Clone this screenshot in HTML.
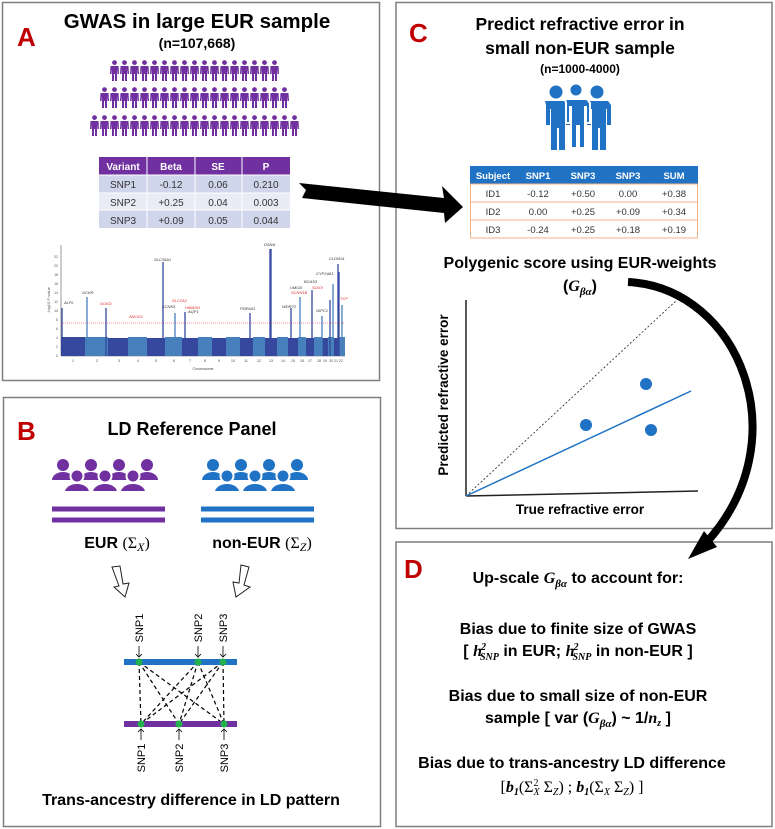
<!DOCTYPE html>
<html><head><meta charset="utf-8"><style>
body{margin:0;background:#fff;}
svg{display:block;font-family:"Liberation Sans",sans-serif;}
.b{font-weight:bold;}
.m{font-family:"Liberation Serif",serif;font-style:italic;font-weight:bold;}
</style></head><body>
<svg width="775" height="829" viewBox="0 0 775 829" xmlns="http://www.w3.org/2000/svg">
<defs>
<g id="pp"><circle cx="4.5" cy="2.6" r="2.4"/><path d="M0.5 6 h8 l0.5 8 h-1.5 l-0.5 -5 v12 h-2 v-7 h-1 v7 h-2 v-12 l-0.5 5 h-1.5z"/></g>
<g id="r1"><use href="#pp" x="110"/><use href="#pp" x="120"/><use href="#pp" x="130"/><use href="#pp" x="140"/><use href="#pp" x="150"/><use href="#pp" x="160"/><use href="#pp" x="170"/><use href="#pp" x="180"/><use href="#pp" x="190"/><use href="#pp" x="200"/><use href="#pp" x="210"/><use href="#pp" x="220"/><use href="#pp" x="230"/><use href="#pp" x="240"/><use href="#pp" x="250"/><use href="#pp" x="260"/><use href="#pp" x="270"/></g>
<g id="grp"><circle cx="11" cy="7" r="6"/><circle cx="39" cy="7" r="6"/><circle cx="67" cy="7" r="6"/><circle cx="95" cy="7" r="6"/>
<path d="M0 22 a11 8 0 0 1 22 0z M28 22 a11 8 0 0 1 22 0z M56 22 a11 8 0 0 1 22 0z M84 22 a11 8 0 0 1 22 0z"/>
<g stroke="#fff" stroke-width="2"><circle cx="25" cy="18" r="6.5"/><circle cx="53" cy="18" r="6.5"/><circle cx="81" cy="18" r="6.5"/>
<path d="M12 34 a13 9 0 0 1 26 0z M40 34 a13 9 0 0 1 26 0z M68 34 a13 9 0 0 1 26 0z"/></g></g>
<g id="big"><circle cx="0" cy="6" r="6.5"/><path d="M-11 15 h22 l3 4 v20 h-4 v-16 h-1 v41 h-6 v-22 h-2 v22 h-6 v-41 h-1 v16 h-4 v-20z"/></g>
</defs>

<g fill="none" stroke="#7f7f7f" stroke-width="1.5">
<rect x="2.5" y="2.5" width="377" height="378"/>
<rect x="3.5" y="397.5" width="377" height="429"/>
<rect x="396" y="2.5" width="376" height="526"/>
<rect x="396" y="542" width="376" height="284.5"/>
</g>

<!-- Panel A -->
<text x="17" y="46" class="b" font-size="26" fill="#c00000">A</text>
<text x="197" y="28" class="b" font-size="20.5" text-anchor="middle">GWAS in large EUR sample</text>
<text x="197" y="48" class="b" font-size="14" text-anchor="middle">(n=107,668)</text>
<g fill="#7030a0">
<use href="#r1" y="60"/>
<use href="#r1" x="-10" y="87"/><use href="#pp" x="270" y="87"/><use href="#pp" x="280" y="87"/>
<use href="#r1" x="-20" y="115"/><use href="#pp" x="260" y="115"/><use href="#pp" x="270" y="115"/><use href="#pp" x="280" y="115"/><use href="#pp" x="290" y="115"/>
</g>
<rect x="99" y="157" width="191" height="18" fill="#7030a0"/>
<rect x="99" y="175" width="191" height="18" fill="#cfd5ea"/>
<rect x="99" y="193" width="191" height="17" fill="#e9ebf5"/>
<rect x="99" y="210" width="191" height="18" fill="#cfd5ea"/>
<g stroke="#fff" stroke-width="1"><line x1="99" y1="175" x2="290" y2="175"/><line x1="99" y1="193" x2="290" y2="193"/><line x1="99" y1="210" x2="290" y2="210"/><line x1="147" y1="157" x2="147" y2="228"/><line x1="195" y1="157" x2="195" y2="228"/><line x1="242" y1="157" x2="242" y2="228"/></g>
<g font-size="10" text-anchor="middle"><g fill="#fff" class="b"><text x="123" y="170">Variant</text><text x="171" y="170">Beta</text><text x="218" y="170">SE</text><text x="266" y="170">P</text></g>
<g fill="#333"><text x="123" y="188">SNP1</text><text x="171" y="188">-0.12</text><text x="218" y="188">0.06</text><text x="266" y="188">0.210</text>
<text x="123" y="206">SNP2</text><text x="171" y="206">+0.25</text><text x="218" y="206">0.04</text><text x="266" y="206">0.003</text>
<text x="123" y="224">SNP3</text><text x="171" y="224">+0.09</text><text x="218" y="224">0.05</text><text x="266" y="224">0.044</text></g></g>
<g>
<line x1="61" y1="245" x2="61" y2="356" stroke="#555" stroke-width="0.6"/>
<line x1="61" y1="356" x2="345" y2="356" stroke="#555" stroke-width="0.6"/>
<g font-size="3.5" fill="#555" text-anchor="end"><text x="58" y="357">0</text><text x="58" y="348">2</text><text x="58" y="339">4</text><text x="58" y="330">6</text><text x="58" y="321">8</text><text x="58" y="312">10</text><text x="58" y="303">12</text><text x="58" y="294">14</text><text x="58" y="285">16</text><text x="58" y="276">18</text><text x="58" y="267">20</text><text x="58" y="258">22</text></g>
<text x="50" y="300" font-size="4" fill="#555" transform="rotate(-90 50 300)" text-anchor="middle">-log10 P-value</text>
<g>
<rect x="61" y="337" width="24" height="19" fill="#35489e"/>
<rect x="85" y="337" width="23" height="19" fill="#4780bd"/>
<rect x="108" y="338" width="20" height="18" fill="#35489e"/>
<rect x="128" y="337" width="19" height="19" fill="#4780bd"/>
<rect x="147" y="338" width="18" height="18" fill="#35489e"/>
<rect x="165" y="337" width="17" height="19" fill="#4780bd"/>
<rect x="182" y="338" width="16" height="18" fill="#35489e"/>
<rect x="198" y="337" width="14" height="19" fill="#4780bd"/>
<rect x="212" y="338" width="14" height="18" fill="#35489e"/>
<rect x="226" y="337" width="14" height="19" fill="#4780bd"/>
<rect x="240" y="338" width="13" height="18" fill="#35489e"/>
<rect x="253" y="337" width="12" height="19" fill="#4780bd"/>
<rect x="265" y="338" width="12" height="18" fill="#35489e"/>
<rect x="277" y="337" width="11" height="19" fill="#4780bd"/>
<rect x="288" y="338" width="10" height="18" fill="#35489e"/>
<rect x="298" y="337" width="8" height="19" fill="#4780bd"/>
<rect x="306" y="338" width="8" height="18" fill="#35489e"/>
<rect x="314" y="337" width="8" height="19" fill="#4780bd"/>
<rect x="322" y="338" width="6" height="18" fill="#35489e"/>
<rect x="328" y="337" width="6" height="19" fill="#4780bd"/>
<rect x="334" y="338" width="5" height="18" fill="#35489e"/>
<rect x="339" y="337" width="6" height="19" fill="#4780bd"/>
</g>
<g stroke-width="1.3" fill="none">
<path stroke="#35489e" d="M62 356V308 M106 356V308 M163 356V262 M185 356V312 M250 356V313 M270 356V249 M271 356V249 M291 356V308 M312 356V290 M338 356V264 M339 356V272 M330 356V300"/>
<path stroke="#4780bd" d="M87 356V297 M175 356V313 M300 356V297 M333 356V284 M342 356V305 M322 356V316"/>
</g>
<line x1="61" y1="323" x2="345" y2="323" stroke="#e03030" stroke-width="0.6" stroke-dasharray="1,1"/>
<g font-size="3.5" fill="#444" text-anchor="middle"><text x="73" y="362">1</text><text x="97" y="362">2</text><text x="119" y="362">3</text><text x="138" y="362">4</text><text x="156" y="362">5</text><text x="174" y="362">6</text><text x="190" y="362">7</text><text x="205" y="362">8</text><text x="219" y="362">9</text><text x="233" y="362">10</text><text x="246" y="362">11</text><text x="259" y="362">12</text><text x="271" y="362">13</text><text x="283" y="362">14</text><text x="293" y="362">15</text><text x="302" y="362">16</text><text x="310" y="362">17</text><text x="319" y="362">18</text><text x="325" y="362">19</text><text x="336" y="362">20 21 22</text><text x="203" y="370">Chromosome</text></g>
<g font-size="4" font-style="italic" fill="#333"><text x="64" y="304">ALPL</text><text x="82" y="294">GCKR</text><text x="154" y="261">SLC39A1</text><text x="162" y="308">KCNK5</text><text x="188" y="313">AQP1</text><text x="240" y="310">PDE6A1</text><text x="264" y="246">DSNA</text><text x="282" y="308">WDR72</text><text x="290" y="289">UMOD</text><text x="304" y="283">BCAS3</text><text x="316" y="275">CYP24A1</text><text x="329" y="260">CLDN14</text><text x="316" y="312">GIPC1</text></g>
<g font-size="4" font-style="italic" fill="#e03030"><text x="100" y="305">DGKD</text><text x="129" y="318">ANOG1</text><text x="172" y="302">SLC2A2</text><text x="185" y="309">HIBADH</text><text x="291" y="294">SCNN1B</text><text x="312" y="289">SOX9</text><text x="340" y="300">TCF</text></g>
</g>

<polygon points="299,183 444,198 442,186 463,207 445,223 444,213 302,198 306,190" fill="#000"/>

<!-- Panel C -->
<text x="409" y="42" class="b" font-size="26" fill="#c00000">C</text>
<text x="580" y="30" class="b" font-size="17.5" text-anchor="middle">Predict refractive error in</text>
<text x="580" y="54" class="b" font-size="17.5" text-anchor="middle">small non-EUR sample</text>
<text x="580" y="73" class="b" font-size="12" text-anchor="middle">(n=1000-4000)</text>
<g fill="#1f72c4">
<use href="#big" x="556" y="86"/><use href="#big" x="597" y="86"/>
<g stroke="#fff" stroke-width="2"><use href="#big" x="576" y="84"/></g>
</g>
<rect x="470" y="166" width="228" height="18" fill="#1f72c4"/>
<rect x="470.5" y="184" width="227" height="54" fill="#fff" stroke="#f4b183"/>
<line x1="470" y1="202" x2="698" y2="202" stroke="#f4b183"/><line x1="470" y1="220" x2="698" y2="220" stroke="#f4b183"/>
<g font-size="9.5" text-anchor="middle"><g fill="#fff" class="b"><text x="493" y="179">Subject</text><text x="538" y="179">SNP1</text><text x="583" y="179">SNP3</text><text x="628" y="179">SNP3</text><text x="674" y="179">SUM</text></g>
<g fill="#333"><text x="493" y="197">ID1</text><text x="538" y="197">-0.12</text><text x="583" y="197">+0.50</text><text x="628" y="197">0.00</text><text x="674" y="197">+0.38</text>
<text x="493" y="215">ID2</text><text x="538" y="215">0.00</text><text x="583" y="215">+0.25</text><text x="628" y="215">+0.09</text><text x="674" y="215">+0.34</text>
<text x="493" y="233">ID3</text><text x="538" y="233">-0.24</text><text x="583" y="233">+0.25</text><text x="628" y="233">+0.18</text><text x="674" y="233">+0.19</text></g></g>
<text x="580" y="268" class="b" font-size="16" text-anchor="middle">Polygenic score using EUR-weights</text>
<text x="580" y="291" font-size="16" text-anchor="middle" class="b">(<tspan class="m">G</tspan><tspan class="m" font-size="11" dy="4">βα</tspan><tspan dy="-4">)</tspan></text>
<line x1="466" y1="300" x2="466" y2="496" stroke="#222" stroke-width="1.5"/>
<line x1="466" y1="496" x2="698" y2="491" stroke="#222" stroke-width="1.5"/>
<line x1="466" y1="496" x2="678" y2="299" stroke="#222" stroke-width="0.8" stroke-dasharray="2,2"/>
<line x1="466" y1="496" x2="691" y2="391" stroke="#1f72c4" stroke-width="1.5"/>
<g fill="#1f72c4"><circle cx="586" cy="425" r="6"/><circle cx="646" cy="384" r="6"/><circle cx="651" cy="430" r="6"/></g>
<text x="448" y="395" class="b" font-size="13.5" text-anchor="middle" transform="rotate(-90 448 395)">Predicted refractive error</text>
<text x="580" y="514" class="b" font-size="13.5" text-anchor="middle">True refractive error</text>
<path d="M628 282 C740 288, 800 440, 706 543" fill="none" stroke="#000" stroke-width="8"/>
<polygon points="688,559 704,531 717,547" fill="#000"/>

<!-- Panel D -->
<text x="404" y="578" class="b" font-size="26" fill="#c00000">D</text>
<g class="b" font-size="16" text-anchor="middle">
<text x="578" y="583">Up-scale <tspan class="m">G</tspan><tspan class="m" font-size="11" dy="4">βα</tspan><tspan dy="-4"> to account for:</tspan></text>
<text x="578" y="634">Bias due to finite size of GWAS</text>
<text x="578" y="656">[ <tspan class="m">h</tspan><tspan class="m" font-size="10" dx="-1" dy="-6">2</tspan><tspan class="m" font-size="10" dx="-6" dy="10">SNP</tspan><tspan dy="-4"> in EUR; </tspan><tspan class="m">h</tspan><tspan class="m" font-size="10" dx="-1" dy="-6">2</tspan><tspan class="m" font-size="10" dx="-6" dy="10">SNP</tspan><tspan dy="-4"> in non-EUR ]</tspan></text>
<text x="578" y="701">Bias due to small size of non-EUR</text>
<text x="578" y="723">sample [ var (<tspan class="m">G</tspan><tspan class="m" font-size="11" dy="4">βα</tspan><tspan dy="-4">) ~ 1/</tspan><tspan class="m">n</tspan><tspan class="m" font-size="10" dy="3">z</tspan><tspan dy="-3"> ]</tspan></text>
<text x="572" y="768">Bias due to trans-ancestry LD difference</text>
<text x="572" y="792" font-family="Liberation Serif,serif" font-weight="normal">[<tspan class="m">b</tspan><tspan class="m" font-size="10" dy="3">1</tspan><tspan dy="-3">(Σ</tspan><tspan font-size="10" dy="-6">2</tspan><tspan font-size="10" font-style="italic" dx="-5" dy="9">X</tspan><tspan dy="-3"> Σ</tspan><tspan font-size="10" font-style="italic" dy="3">Z</tspan><tspan dy="-3">) ; </tspan><tspan class="m">b</tspan><tspan class="m" font-size="10" dy="3">1</tspan><tspan dy="-3">(Σ</tspan><tspan font-size="10" font-style="italic" dy="3">X</tspan><tspan dy="-3"> Σ</tspan><tspan font-size="10" font-style="italic" dy="3">Z</tspan><tspan dy="-3">) ]</tspan></text>
</g>

<!-- Panel B -->
<text x="17" y="440" class="b" font-size="26" fill="#c00000">B</text>
<text x="192" y="435" class="b" font-size="18" text-anchor="middle">LD Reference Panel</text>
<use href="#grp" x="52" y="458" fill="#7030a0"/>
<use href="#grp" x="202" y="458" fill="#1f72c4"/>
<g stroke-width="5"><line x1="52" y1="509" x2="165" y2="509" stroke="#7030a0"/><line x1="52" y1="520" x2="165" y2="520" stroke="#7030a0"/>
<line x1="201" y1="509" x2="314" y2="509" stroke="#1f72c4"/><line x1="201" y1="520" x2="314" y2="520" stroke="#1f72c4"/></g>
<text x="117" y="548" class="b" font-size="16" text-anchor="middle">EUR <tspan font-family="Liberation Serif,serif" font-weight="normal">(Σ<tspan font-style="italic" font-size="12" dy="3">X</tspan><tspan dy="-3">)</tspan></tspan></text>
<text x="262" y="548" class="b" font-size="16" text-anchor="middle">non-EUR <tspan font-family="Liberation Serif,serif" font-weight="normal">(Σ<tspan font-style="italic" font-size="12" dy="3">Z</tspan><tspan dy="-3">)</tspan></tspan></text>
<g fill="#fff" stroke="#222" stroke-width="1">
<polygon points="112,567 120,566 123,584 129,583 125,597 114,587 119,586" />
<polygon points="241,565 249,567 244,585 250,587 236,597 233,582 239,583"/>
</g>
<g stroke="#000" stroke-width="1.2" stroke-dasharray="4,3" fill="none">
<path d="M139 662L141 724 M139 662L179 724 M139 662L224 724 M198 662L141 724 M198 662L179 724 M198 662L224 724 M223 662L141 724 M223 662L179 724 M223 662L224 724"/>
</g>
<rect x="124" y="659" width="113" height="6" fill="#1f72c4"/>
<rect x="124" y="721" width="113" height="6" fill="#7030a0"/>
<g fill="#22b14c"><circle cx="139" cy="662" r="3.5"/><circle cx="198" cy="662" r="3.5"/><circle cx="223" cy="662" r="3.5"/><circle cx="141" cy="724" r="3.5"/><circle cx="179" cy="724" r="3.5"/><circle cx="224" cy="724" r="3.5"/></g>
<g stroke="#000" stroke-width="0.8" fill="none">
<path d="M139 646V657 M136 654l3 3 3-3 M198 646V657 M195 654l3 3 3-3 M223 646V657 M220 654l3 3 3-3"/>
<path d="M141 740V729 M138 732l3-3 3 3 M179 740V729 M176 732l3-3 3 3 M224 740V729 M221 732l3-3 3 3"/>
</g>
<g font-size="11" text-anchor="middle">
<text transform="translate(143 628) rotate(-90)">SNP1</text>
<text transform="translate(202 628) rotate(-90)">SNP2</text>
<text transform="translate(227 628) rotate(-90)">SNP3</text>
<text transform="translate(145 758) rotate(-90)">SNP1</text>
<text transform="translate(183 758) rotate(-90)">SNP2</text>
<text transform="translate(228 758) rotate(-90)">SNP3</text>
</g>
<text x="191" y="805" class="b" font-size="16" text-anchor="middle">Trans-ancestry difference in LD pattern</text>
</svg>
</body></html>
